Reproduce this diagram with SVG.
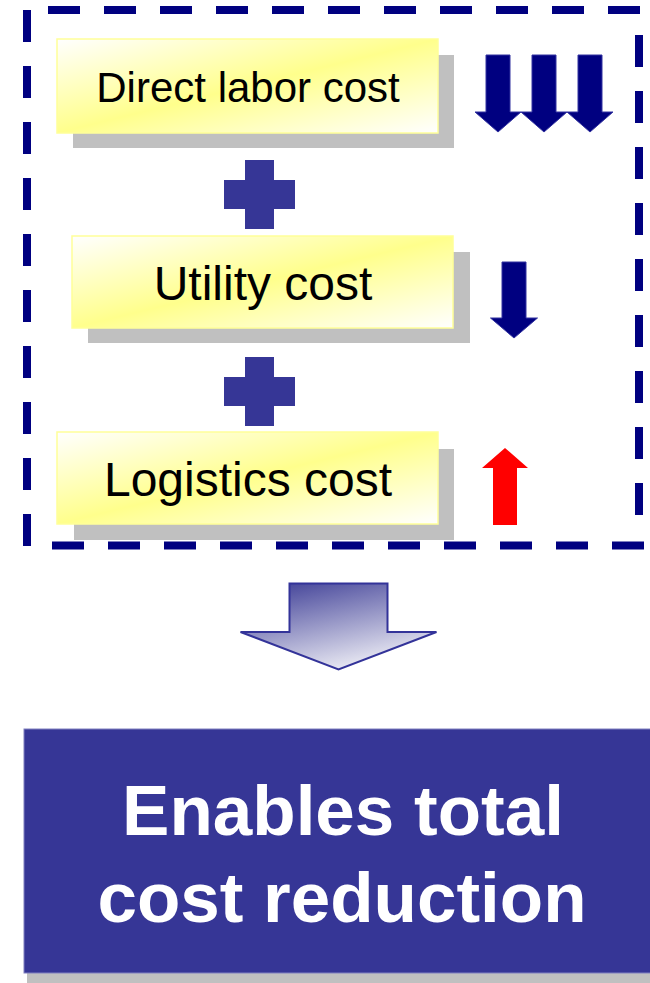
<svg xmlns="http://www.w3.org/2000/svg" width="650" height="983" viewBox="0 0 650 983">
  <defs>
    <linearGradient id="yel" x1="0" y1="0" x2="1" y2="1">
      <stop offset="0" stop-color="#FFFFFF"/>
      <stop offset="0.5" stop-color="#FFFF8C"/>
      <stop offset="1" stop-color="#FFFFFF"/>
    </linearGradient>
    <linearGradient id="bigArrow" x1="0.2" y1="0" x2="0.7" y2="1">
      <stop offset="0" stop-color="#45459A"/>
      <stop offset="1" stop-color="#F6F6FA"/>
    </linearGradient>
  </defs>
  <style>
    .shadow { fill: #C0C0C0; }
    .box { fill: url(#yel); stroke: #FFFF99; stroke-width: 1.5; }
    .lbl { font-family: "Liberation Sans", Arial, sans-serif; fill: #000000; text-anchor: middle; }
    .dash { stroke: #000080; stroke-width: 8; stroke-dasharray: 32 24; fill: none; }
    .plus { fill: #363696; }
    .down { fill: #000080; stroke: #3333A0; stroke-width: 1; }
    .up { fill: #FF0000; }
    .big { font-family: "Liberation Sans", Arial, sans-serif; font-weight: bold; fill: #FFFFFF; text-anchor: middle; font-size: 71px; }
  </style>

  <g id="group-frame">
    <line class="dash" x1="27" y1="10" x2="27" y2="546"/>
    <line class="dash" x1="48" y1="10" x2="641" y2="10"/>
    <line class="dash" x1="639" y1="35" x2="639" y2="520"/>
    <line class="dash" x1="52" y1="545.5" x2="644" y2="545.5"/>
  </g>

  <g id="node-direct-labor">
    <rect class="shadow" x="73" y="55" width="381" height="93"/>
    <rect class="box" x="57" y="39" width="381" height="94"/>
    <text class="lbl" x="248" y="102" font-size="42">Direct labor cost</text>
  </g>

  <g id="node-utility">
    <rect class="shadow" x="88" y="252" width="382" height="91"/>
    <rect class="box" x="72" y="236" width="381" height="92"/>
    <text class="lbl" x="263" y="300" font-size="48">Utility cost</text>
  </g>

  <g id="node-logistics">
    <rect class="shadow" x="74" y="449" width="380" height="91"/>
    <rect class="box" x="57" y="432" width="381" height="92"/>
    <text class="lbl" x="248" y="496" font-size="48">Logistics cost</text>
  </g>

  <g id="plus-1">
    <path class="plus" d="M245,160 H274 V180 H295 V209 H274 V229 H245 V209 H224 V180 H245 Z"/>
  </g>
  <g id="plus-2">
    <path class="plus" d="M245,357 H274 V377 H295 V406 H274 V426 H245 V406 H224 V377 H245 Z"/>
  </g>

  <g id="indicator-direct-labor">
    <path class="down" d="M486,55 H510 V112 H521 L498,132 L475,112 H486 Z"/>
    <path class="down" d="M532,55 H556 V112 H567 L544,132 L521,112 H532 Z"/>
    <path class="down" d="M578,55 H602 V112 H613 L590,132 L567,112 H578 Z"/>
  </g>
  <g id="indicator-utility">
    <path class="down" d="M502,262 H526 V318 H537.5 L514,338 L490.5,318 H502 Z"/>
  </g>
  <g id="indicator-logistics">
    <path class="up" d="M493,525 H517 V468 H528 L505,448 L482,468 H493 Z"/>
  </g>

  <g id="connectors">
    <path d="M289.5,583.5 H387.5 V632 H436.5 L338.5,669.5 L240.5,632 H289.5 Z" fill="url(#bigArrow)" stroke="#333399" stroke-width="2" stroke-linejoin="miter"/>
  </g>

  <g id="node-result">
    <rect class="shadow" x="27" y="741" width="640" height="250"/>
    <rect x="24" y="729" width="640" height="244" fill="#363696" stroke="#8080C0" stroke-width="1"/>
    <text class="big" x="343" y="835">Enables total</text>
    <text class="big" x="342" y="922">cost reduction</text>
  </g>
</svg>
